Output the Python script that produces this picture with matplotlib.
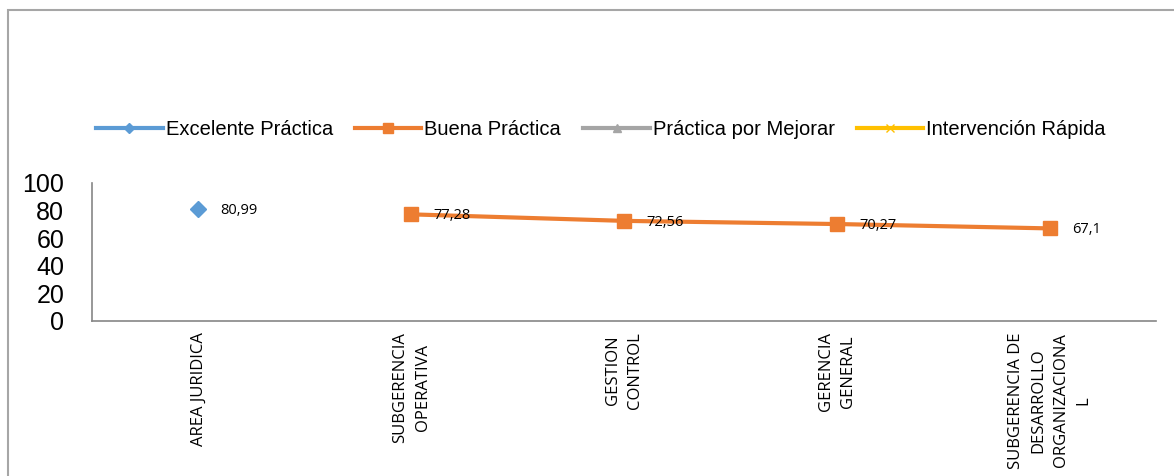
import matplotlib
matplotlib.use("Agg")
import matplotlib.pyplot as plt
import numpy as np
from matplotlib.patches import Rectangle

categories = ["AREA JURIDICA", "SUBGERENCIA\nOPERATIVA", "GESTION\nCONTROL",
              "GERENCIA\nGENERAL", "SUBGERENCIA DE\nDESARROLLO\nORGANIZACIONA\nL"]
excelente = [80.99, None, None, None, None]
buena = [None, 77.28, 72.56, 70.27, 67.1]
mejorar = [None, None, None, None, None]
intervencion = [None, None, None, None, None]
yticks = [0, 20, 40, 60, 80, 100]

W, H = 1174, 476
fig = plt.figure(figsize=(W / 100, H / 100), dpi=100)
fig.patch.set_facecolor("white")

# outer chart frame
fig.patches.append(Rectangle((8 / W, -0.05), 1.2, (H - 10) / H + 0.05,
                             transform=fig.transFigure, fill=False,
                             edgecolor="#a6a6a6", linewidth=1.5))

left, right, top, bottom = 92, 1156, 183, 321
ax = fig.add_axes([left / W, 1 - bottom / H, (right - left) / W, (bottom - top) / H])

x = np.arange(len(categories))

def to_arr(vals):
    return np.array([np.nan if v is None else v for v in vals], dtype=float)

e = to_arr(excelente)
b = to_arr(buena)
m = to_arr(mejorar)
iv = to_arr(intervencion)

l1, = ax.plot(x, e, color="#5b9bd5", lw=3, marker="D", ms=8, label="Excelente Práctica")
l2, = ax.plot(x, b, color="#ed7d31", lw=3, marker="s", ms=10, label="Buena Práctica")
l3, = ax.plot(x, m, color="#a5a5a5", lw=3, marker="^", ms=8, label="Práctica por Mejorar")
l4, = ax.plot(x, iv, color="#ffc000", lw=3, marker="x", ms=8, label="Intervención Rápida")

label_font = ["Open Sans", "DejaVu Sans"]
for series in (e, b):
    for xi, v in zip(x, series):
        if not np.isnan(v):
            txt = f"{v:g}".replace(".", ",")
            ax.annotate(txt, (xi, v), xytext=(16, -1), textcoords="offset points",
                        ha="left", va="center", fontsize=10.5, family=label_font)

ax.set_xlim(-0.5, len(categories) - 0.5)
ax.set_ylim(0, 100)
ax.set_yticks(yticks)
ax.set_yticklabels([str(t) for t in yticks], fontsize=18, family=["Liberation Sans"])
ax.set_xticks(x)
ax.set_xticklabels(categories, rotation=90, fontsize=12, family=label_font,
                   va="top", ha="center", multialignment="center", linespacing=1.55)
ax.tick_params(axis="both", length=0)
ax.tick_params(axis="x", pad=8)
ax.tick_params(axis="y", pad=20)

for s in ("top", "right"):
    ax.spines[s].set_visible(False)
for s in ("left", "bottom"):
    ax.spines[s].set_color("#868686")
    ax.spines[s].set_linewidth(1.2)

leg = fig.legend(handles=[l1, l2, l3, l4], loc="center", ncol=4,
                 bbox_to_anchor=(601 / W, 1 - 130 / H), frameon=False,
                 prop={"family": ["Liberation Sans"], "size": 14.5},
                 handlelength=3.3, handletextpad=0.15, columnspacing=1.1, markerscale=0.7)

fig.savefig("out.png", dpi=100, facecolor="white")
